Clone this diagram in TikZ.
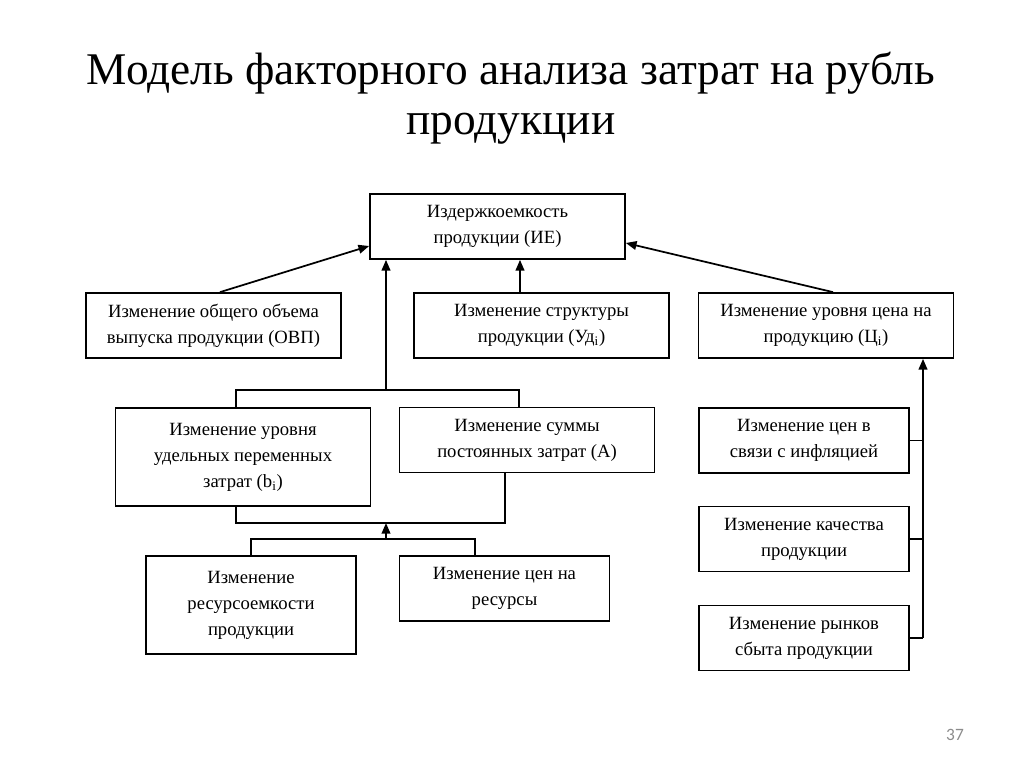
\documentclass[tikz,border=0pt]{standalone}
\usepackage{fontspec}
\setmainfont{Liberation Serif}
\newfontfamily\pgnum{Carlito}
\usetikzlibrary{arrows.meta,calc}
\begin{document}
\begin{tikzpicture}[x=0.75pt,y=-0.75pt,
  box/.style={draw=black,line width=1.3pt,inner sep=0pt,align=center,
    font=\fontsize{14pt}{19.5pt}\selectfont},
  w255/.style={minimum width=191.25pt},
  w210/.style={minimum width=157.5pt},
  h65/.style={minimum height=48.75pt},
  h99/.style={minimum height=74pt},
  link/.style={line width=1.3pt},
  arr/.style={line width=1.3pt,-{Triangle[length=8pt,width=6.5pt]}}]
\useasboundingbox[fill=white] (0,0) rectangle (1024,767);
\node[font=\fontsize{34pt}{37.5pt}\selectfont,align=center] (title) at (511,98)
  {Модель факторного анализа затрат на рубль\\продукции};
\node[box,w255,h65] (ie) at (497.5,226.5) {Издержкоемкость\\продукции (ИЕ)};
\node[box,w255,h65] (ovp) at (213.5,325.5) {Изменение общего объема\\выпуска продукции (ОВП)};
\node[box,w255,h65] (ud) at (541.5,325.5) {Изменение структуры\\продукции (Уд\textsubscript{i})};
\node[box,w255,h65] (ci) at (826,325.5) {Изменение уровня цена на\\продукцию (Ц\textsubscript{i})};
\node[box,w255,h99] (bi) at (243,457) {Изменение уровня\\удельных переменных\\затрат (b\textsubscript{i})};
\node[box,w255,h65] (a) at (527,440) {Изменение суммы\\постоянных затрат (А)};
\node[box,w210,h65] (infl) at (804,440.5) {Изменение цен в\\связи с инфляцией};
\node[box,w210,h65] (qual) at (804,539) {Изменение качества\\продукции};
\node[box,w210,h65] (mark) at (804,638) {Изменение рынков\\сбыта продукции};
\node[box,w210,h99] (res) at (251,605) {Изменение\\ресурсоемкости\\продукции};
\node[box,w210,h65] (resp) at (504.5,588.5) {Изменение цен на\\ресурсы};
\node[text=black!45,font=\pgnum\fontsize{13pt}{15pt}\selectfont] (pg) at (955,735) {37};
% upper connectors
\draw[arr] ($(ovp.north)+(6.5,0)$) -- ($(ie.west)+(0,19.5)$);
\draw[arr] ($(ci.north)+(7,0)$) -- ($(ie.east)+(0,16.5)$);
\draw[arr] ($(ud.north)+(-21.5,0)$) -- ($(ie.south)+(22.5,0)$);
% top bracket
\coordinate (tb) at (386,390);
\draw[link] ($(bi.north)+(-7,0)$) |- (tb) -| ($(a.north)+(-8,0)$);
\draw[arr] (tb) -- (ie.south -| tb);
% bottom bracket
\coordinate (bb) at (386,523);
\draw[link] ($(bi.south)+(-7,0)$) |- (bb) -| ($(a.south)+(-22,0)$);
\coordinate (lb) at (386,539);
\draw[link] (res.north) |- (lb) -| ($(resp.north)+(-29.5,0)$);
\draw[arr] (lb) -- (bb);
% right side
\coordinate (rv) at (923,638);
\draw[link] (infl.east) -- (infl.east -| rv);
\draw[link] (qual.east) -- (qual.east -| rv);
\draw[link] (mark.east) -- (rv);
\draw[arr] (rv) -- (ci.south -| rv);
\end{tikzpicture}
\end{document}
